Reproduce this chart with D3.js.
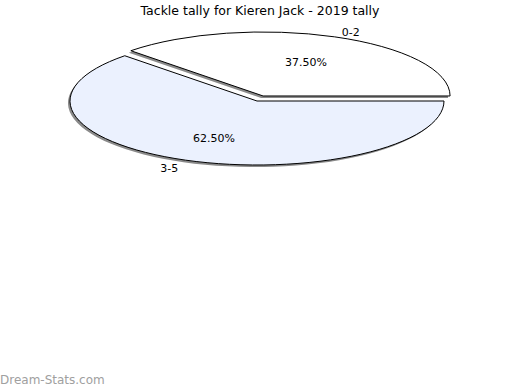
<!DOCTYPE html>
<html>
<head>
<meta charset="utf-8">
<script src="https://cdn.jsdelivr.net/npm/d3@7"></script>
<style>
  body { margin: 0; background: #fff; }
  svg { display: block; font-family: "DejaVu Sans", sans-serif; }
</style>
</head>
<body>
<svg width="520" height="390"></svg>
<script>
const categories = ['0-2', '3-5'];
const values = [37.5, 62.5];
const percentLabels = ['37.50%', '62.50%'];
const fills = ['#ffffff', '#ebf1fe'];

const WIDTH = 520;
const HEIGHT = 390;
const CX = 257;
const CY = 101;
const RX = 187;
const RY = 64;
const SY = RY / RX;
const EXPLODE = [0.085, 0];

const svg = d3.select('svg');

svg.append('text')
  .attr('x', WIDTH / 2)
  .attr('y', 15)
  .attr('text-anchor', 'middle')
  .attr('font-size', 12.5)
  .text('Tackle tally for Kieren Jack - 2019 tally');

const pie = d3.pie()
  .sort(null)
  .startAngle(-Math.PI / 4)
  .endAngle(Math.PI * 7 / 4);

const arcs = pie(values);
const arc = d3.arc().innerRadius(0).outerRadius(RX);

// offset of a slice centre, in screen space
const offsetOf = (d, i) => {
  const mid = (d.startAngle + d.endAngle) / 2;
  return [Math.sin(mid) * RX * EXPLODE[i], -Math.cos(mid) * RY * EXPLODE[i]];
};

// ---------- shadows ----------

arcs.forEach((d, i) => {
  const [dx, dy] = offsetOf(d, i);
  svg.append('path')
    .attr('d', arc(d))
    .attr('transform', `translate(${CX + dx - 2}, ${CY + dy + 2}) scale(1, ${SY})`)
    .attr('fill', '#8a8a8a');
});

// ---------- slices ----------

arcs.forEach((d, i) => {
  const [dx, dy] = offsetOf(d, i);
  svg.append('path')
    .attr('d', arc(d))
    .attr('transform', `translate(${CX + dx}, ${CY + dy}) scale(1, ${SY})`)
    .attr('fill', fills[i])
    .attr('stroke', '#000')
    .attr('stroke-width', 1)
    .attr('vector-effect', 'non-scaling-stroke');
});

// ---------- labels ----------

arcs.forEach((d, i) => {
  const [dx, dy] = offsetOf(d, i);
  const mid = (d.startAngle + d.endAngle) / 2;
  const ux = Math.sin(mid);
  const uy = -Math.cos(mid);

  svg.append('text')
    .attr('x', CX + dx + ux * RX * 0.6)
    .attr('y', CY + dy + uy * RY * 0.6 + 2)
    .attr('text-anchor', 'middle')
    .attr('dominant-baseline', 'central')
    .attr('font-size', 11)
    .text(percentLabels[i]);

  svg.append('text')
    .attr('x', CX + dx + ux * RX * 1.1)
    .attr('y', CY + dy + uy * RY * 1.1 + 2)
    .attr('text-anchor', ux >= 0 ? 'start' : 'end')
    .attr('dominant-baseline', 'central')
    .attr('font-size', 11)
    .text(categories[i]);
});

svg.append('text')
  .attr('x', 0)
  .attr('y', 384)
  .attr('font-size', 12)
  .attr('fill', '#a0a0a0')
  .text('Dream-Stats.com');
</script>
</body>
</html>
